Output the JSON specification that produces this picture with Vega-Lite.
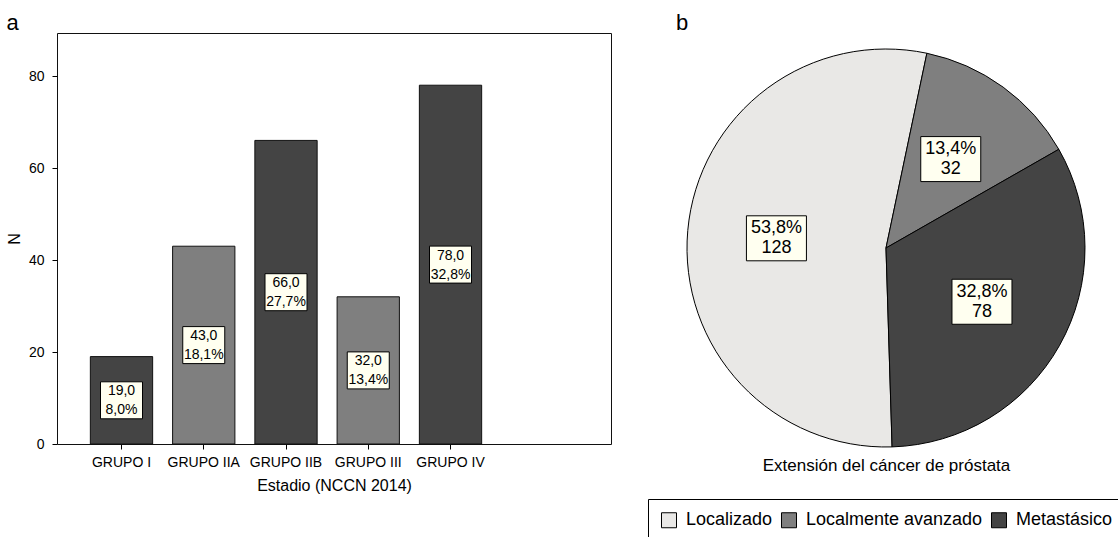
{
  "$schema": "https://vega.github.io/schema/vega-lite/v6.json",
  "background": "white",
  "padding": {"left": 5, "top": 11, "right": 0, "bottom": 0},
  "spacing": 35,
  "resolve": {"scale": {"color": "independent"}, "legend": {"color": "independent"}},
  "config": {
    "font": "Liberation Sans",
    "title": {"font": "Liberation Sans", "color": "#000", "fontWeight": "normal"},
    "axis": {"labelFont": "Liberation Sans", "titleFont": "Liberation Sans", "labelColor": "#000", "titleColor": "#000", "tickColor": "#000", "titleFontWeight": "normal"},
    "legend": {"labelFont": "Liberation Sans", "layout": {"bottom": {"anchor": "middle"}}}
  },
  "hconcat": [
    {
      "width": 554,
      "height": 411,
      "title": {"text": "a", "anchor": "start", "frame": "bounds", "fontSize": 22, "fontWeight": "normal", "offset": -2},
      "view": {"stroke": "#111", "strokeWidth": 1},
      "data": {
        "values": [
          {"grupo": "GRUPO I", "n": 19, "label": "19,0\n8,0%"},
          {"grupo": "GRUPO IIA", "n": 43, "label": "43,0\n18,1%"},
          {"grupo": "GRUPO IIB", "n": 66, "label": "66,0\n27,7%"},
          {"grupo": "GRUPO III", "n": 32, "label": "32,0\n13,4%"},
          {"grupo": "GRUPO IV", "n": 78, "label": "78,0\n32,8%"}
        ]
      },
      "encoding": {
        "x": {
          "field": "grupo", "type": "nominal", "sort": null,
          "scale": {"paddingInner": 0.2426, "paddingOuter": 0.989, "align": 0.205},
          "axis": {"title": "Estadio (NCCN 2014)", "labelAngle": 0, "domain": false, "tickSize": 5, "labelFontSize": 14, "titleFontSize": 16, "labelPadding": 6, "titlePadding": 8}
        }
      },
      "layer": [
        {
          "mark": {"type": "bar", "stroke": "#111", "strokeWidth": 1},
          "encoding": {
            "y": {"field": "n", "type": "quantitative", "scale": {"domain": [0, 89.35], "nice": false},
              "axis": {"title": "N", "values": [0, 20, 40, 60, 80], "grid": false, "domain": false, "tickSize": 5, "labelFontSize": 14, "titleFontSize": 16, "labelPadding": 8, "titlePadding": 6}},
            "color": {"field": "grupo", "type": "nominal", "legend": null,
              "scale": {"domain": ["GRUPO I", "GRUPO IIA", "GRUPO IIB", "GRUPO III", "GRUPO IV"], "range": ["#444444", "#7f7f7f", "#444444", "#7f7f7f", "#444444"]}}
          }
        },
        {
          "transform": [{"calculate": "datum.n/2", "as": "mid"}],
          "encoding": {"y": {"field": "mid", "type": "quantitative", "title": "N"}},
          "layer": [
            {"mark": {"type": "point", "shape": "M-1,-0.881H1V0.881H-1Z", "size": 1764, "filled": true, "fill": "#fffff0", "stroke": "#000", "strokeWidth": 1, "opacity": 1}},
            {"mark": {"type": "text", "lineBreak": "\n", "fontSize": 14, "lineHeight": 19, "baseline": "middle", "align": "center", "dy": -9, "color": "#000"},
              "encoding": {"text": {"field": "label"}}}
          ]
        }
      ]
    },
    {
      "width": 420,
      "height": 430,
      "title": {"text": "b", "anchor": "start", "frame": "group", "fontSize": 22, "fontWeight": "normal", "offset": -2},
      "view": {"stroke": null},
      "data": {
        "values": [
          {"cat": "Localizado", "n": 128, "ord": 1, "label": "53,8%\n128"},
          {"cat": "Localmente avanzado", "n": 32, "ord": 2, "label": "13,4%\n32"},
          {"cat": "Metastásico", "n": 78, "ord": 3, "label": "32,8%\n78"}
        ]
      },
      "layer": [
        {
          "mark": {"type": "arc", "outerRadius": 199, "stroke": "#000", "strokeWidth": 1},
          "encoding": {
            "theta": {"field": "n", "type": "quantitative", "stack": true, "scale": {"range": [3.111, 9.3942]}},
            "order": {"field": "ord", "type": "quantitative"},
            "color": {"field": "cat", "type": "nominal",
              "scale": {"domain": ["Localizado", "Localmente avanzado", "Metastásico"], "range": ["#e9e8e6", "#7f7f7f", "#444444"]},
              "legend": {"title": null, "orient": "bottom", "direction": "horizontal", "symbolType": "square", "symbolSize": 225, "symbolStrokeColor": "#000", "symbolStrokeWidth": 1, "symbolOpacity": 1, "labelFontSize": 18, "labelColor": "#000", "labelLimit": 0, "strokeColor": "#000", "padding": 12, "columnPadding": 6, "labelOffset": 8, "offset": 26}}
          }
        },
        {
          "transform": [
            {"joinaggregate": [{"op": "sum", "field": "n", "as": "total"}]},
            {"window": [{"op": "sum", "field": "n", "as": "cum"}], "sort": [{"field": "ord"}], "frame": [null, 0]},
            {"calculate": "3.111 + 2*PI*(datum.cum - datum.n/2)/datum.total", "as": "ang"},
            {"calculate": "110*sin(datum.ang)", "as": "lx"},
            {"calculate": "110*cos(datum.ang)", "as": "ly"}
          ],
          "encoding": {
            "x": {"field": "lx", "type": "quantitative", "scale": {"domain": [-210, 210], "nice": false, "zero": false},
              "axis": {"title": "Extensión del cáncer de próstata", "domain": false, "ticks": false, "labels": false, "grid": false, "titleFontSize": 17, "titleBaseline": "alphabetic", "titlePadding": 7}},
            "y": {"field": "ly", "type": "quantitative", "scale": {"domain": [-215, 215], "nice": false, "zero": false}, "axis": null}
          },
          "layer": [
            {"mark": {"type": "point", "shape": "M-1,-0.75H1V0.75H-1Z", "size": 3600, "filled": true, "fill": "#fffff0", "stroke": "#000", "strokeWidth": 1, "opacity": 1}},
            {"mark": {"type": "text", "lineBreak": "\n", "fontSize": 18, "lineHeight": 20, "baseline": "middle", "align": "center", "dy": -10, "color": "#000"},
              "encoding": {"text": {"field": "label"}}}
          ]
        }
      ]
    }
  ]
}
